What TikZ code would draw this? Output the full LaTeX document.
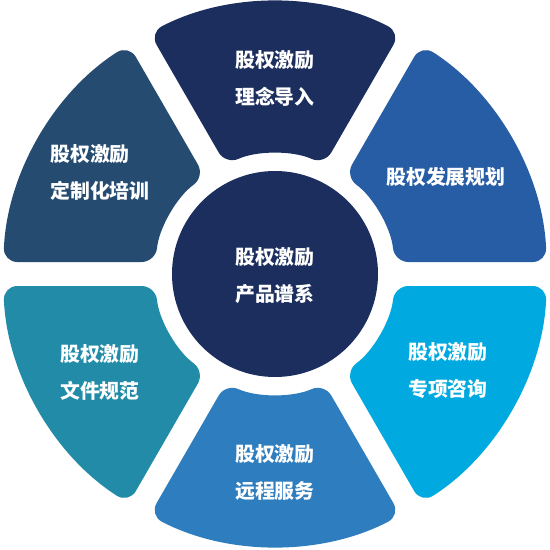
\documentclass[tikz,border=0pt]{standalone}
\usepackage{fontspec}
\newfontfamily\cjk{Noto Sans CJK SC}
\definecolor{navy}{HTML}{1B2E5D}
\definecolor{slateblue}{HTML}{254B71}
\definecolor{royalblue}{HTML}{265DA4}
\definecolor{skyblue}{HTML}{00A9DF}
\definecolor{midblue}{HTML}{2E7DBE}
\definecolor{tealblue}{HTML}{218BA8}
\begin{document}
\begin{tikzpicture}[
			x=0.2mm, y=0.2mm,
			segment/.style={rounded corners=2.8mm},
			label/.style={text=white, inner sep=0pt, align=center, font=\cjk\bfseries\fontsize{11.3}{21}\selectfont},
		]
		\useasboundingbox (-275,-276) rectangle (275,274);

		% ring segments
		\fill[segment, navy] (117.47:272) arc[start angle=117.47, end angle=62.53, radius=272] -- (65.74:120) arc[start angle=65.74, end angle=114.26, radius=120] -- cycle;
		\fill[segment, royalblue] (57.47:272) arc[start angle=57.47, end angle=2.53, radius=272] -- (5.74:120) arc[start angle=5.74, end angle=54.26, radius=120] -- cycle;
		\fill[segment, skyblue] (-2.53:272) arc[start angle=-2.53, end angle=-57.47, radius=272] -- (-54.26:120) arc[start angle=-54.26, end angle=-5.74, radius=120] -- cycle;
		\fill[segment, midblue] (-62.53:272) arc[start angle=-62.53, end angle=-117.47, radius=272] -- (-114.26:120) arc[start angle=-114.26, end angle=-65.74, radius=120] -- cycle;
		\fill[segment, tealblue] (237.47:272) arc[start angle=237.47, end angle=182.53, radius=272] -- (185.74:120) arc[start angle=185.74, end angle=234.26, radius=120] -- cycle;
		\fill[segment, slateblue] (177.47:272) arc[start angle=177.47, end angle=122.53, radius=272] -- (125.74:120) arc[start angle=125.74, end angle=174.26, radius=120] -- cycle;

		% centre
		\fill[navy] (0,0) circle[radius=103];

		\node[label] (core)    at (0, -2)     {股权激励\\产品谱系};
		\node[label] (idea)    at (0, 195.5)  {股权激励\\理念导入};
		\node[label] (plan)    at (171, 97)   {股权发展规划};
		\node[label] (consult) at (173, -96.5) {股权激励\\专项咨询};
		\node[label] (remote)  at (0, -198.5) {股权激励\\远程服务};
		\node[label] (docs)    at (-175, -98.5) {股权激励\\文件规范};
		\node[label, align=left, anchor=west] (train) at (-225, 101.5) {股权激励\\定制化培训};
	\end{tikzpicture}
\end{document}
